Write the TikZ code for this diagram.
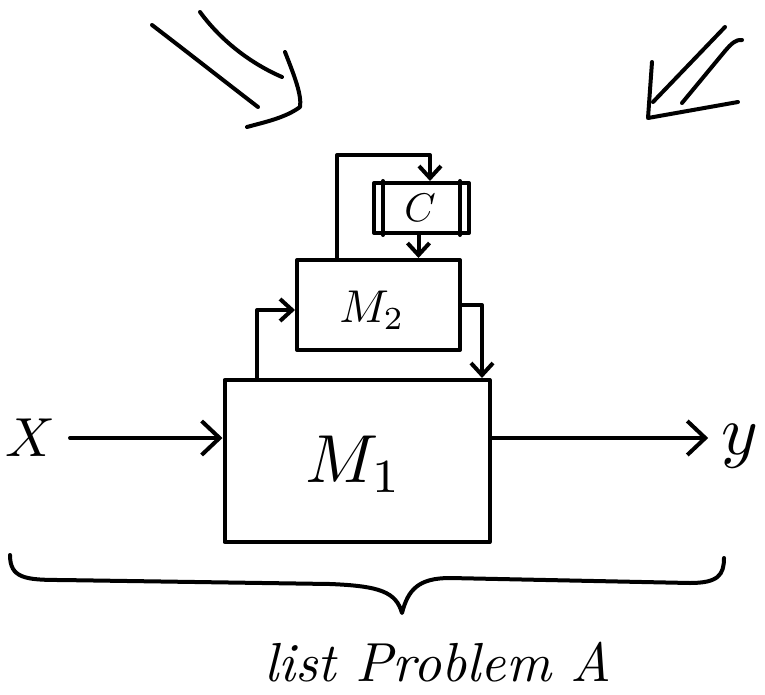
\documentclass[tikz,border=0pt]{standalone}
\usetikzlibrary{arrows.meta}
\begin{document}
\begin{tikzpicture}[x=1pt,y=-1pt,
  ink/.style={line width=4pt,line cap=round,line join=round},
  arr/.style={ink,-{Straight Barb[length=12pt,width=22pt]}},
  bigarr/.style={ink,-{Straight Barb[length=18pt,width=34pt]}},
  box/.style={draw,ink,inner sep=0pt},
  lbl/.style={inner sep=0pt}]
\fill[white] (0,0) rectangle (765,695);
\useasboundingbox (0,0) rectangle (765,695);

% boxes
\node[box,minimum width=265pt,minimum height=162pt] (M1) at (357,461) {};
\node[box,minimum width=163pt,minimum height=90pt] (M2) at (378.5,305) {};
\node[box,minimum width=95pt,minimum height=50pt] (C) at (421.5,208) {};
\draw[ink] ([xshift=11pt]C.north west) -- ([xshift=11pt]C.south west);
\draw[ink] ([xshift=-11pt]C.north east) -- ([xshift=-11pt]C.south east);

% labels
\node[lbl,scale=6.8] (M1l) at (354,464) {$M_1$};
\node[lbl,scale=4.6] (M2l) at (372,310) {$M_2$};
\node[lbl,scale=4] (Cl) at (420,208) {$C$};
\node[lbl,scale=5.5] (X) at (30,438) {$X$};
\node[lbl,scale=7] (Y) at (740,446) {$y$};

% connectors
\draw[bigarr] ([xshift=14pt]X.east) -- (X.east -| M1.west);
\draw[bigarr] (X.east -| M1.east) -- ([xshift=-12pt]Y.west |- X.east);

\coordinate (t1) at (337,155);
\draw[arr] (M2.north -| t1) -- (t1) -| ([xshift=8.5pt]C.north);
\draw[arr] ([xshift=-3pt]C.south) -- ([xshift=-3pt]C.south |- M2.north);

\coordinate (t2) at (257,310);
\draw[arr] (M1.north -| t2) -- (t2) -- (t2 -| M2.west);

\coordinate (t3) at (482,305);
\draw[arr] (t3 -| M2.east) -- (t3) -- (t3 |- M1.north);

% big incoming arrows (top left)
\draw[ink] (152,25) .. controls (195,58) and (228,84) .. (258,107);
\draw[ink] (200,12) .. controls (222,42) and (252,64) .. (282,77);
\draw[ink] (285,52) .. controls (294,75) and (302,95) .. (300,107)
  .. controls (285,118) and (265,122) .. (247,127);

% big incoming arrow (top right)
\draw[ink] (725,27) -- (653,102);
\draw[ink] (742,40) .. controls (736,39) and (731,44) .. (725,51) -- (682,103);
\draw[ink] (652,62) -- (648,118) -- (738,102);

% brace
\draw[ink] (10,555) .. controls (10,578) and (25,580) .. (60,580) -- (330,584)
  .. controls (380,586) and (396,592) .. (402,613)
  .. controls (408,590) and (418,578) .. (450,578) -- (690,583)
  .. controls (718,583) and (724,575) .. (724,558);

% caption
\node[lbl,scale=5.5] (cap) at (438,662) {\itshape list Problem A};
\end{tikzpicture}
\end{document}
